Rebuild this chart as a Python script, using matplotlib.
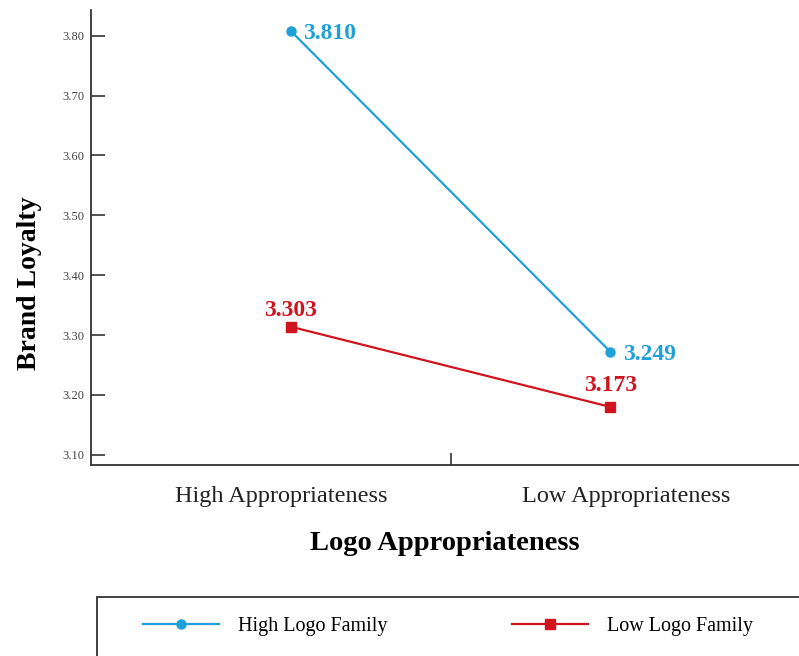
import matplotlib
matplotlib.use("Agg")
import matplotlib.pyplot as plt
from matplotlib.lines import Line2D
from matplotlib.patches import Rectangle

# data
categories = ["High Appropriateness", "Low Appropriateness"]
high_family = [3.808, 3.272]
low_family = [3.314, 3.180]
high_labels = ["3.810", "3.249"]
low_labels = ["3.303", "3.173"]
y_ticks = [3.10, 3.20, 3.30, 3.40, 3.50, 3.60, 3.70, 3.80]

BLUE = "#20a0d8"
RED = "#d0141e"
SPINE = "#333333"

plt.rcParams["font.family"] = ["Liberation Serif", "DejaVu Serif"]

fig = plt.figure(figsize=(7.99, 6.56), dpi=100)
ax = fig.add_axes([91 / 799, (656 - 465) / 656, 708 / 799, 455 / 656])

x = [1, 2]
ax.plot(x, high_family, color=BLUE, lw=1.6, marker="o", ms=6.5)
ax.plot(x, low_family, color=RED, lw=1.6, marker="s", ms=6.5)

# value labels
for xi, yi, t in zip(x, high_family, high_labels):
    ax.annotate(t, (xi, yi), xytext=(9, -2), textcoords="offset points",
                ha="left", va="center", color=BLUE, fontsize=17,
                fontweight="bold")
for xi, yi, t, dy in zip(x, low_family, low_labels, [4, 8]):
    ax.annotate(t, (xi, yi), xytext=(0, dy), textcoords="offset points",
                ha="center", va="bottom", color=RED, fontsize=17,
                fontweight="bold")

ax.set_xlim(0.375, 2.59)
ax.set_ylim(3.083, 3.843)

ax.set_yticks(y_ticks)
ax.set_yticklabels([f"{v:.2f}" for v in y_ticks])
ax.tick_params(axis="y", direction="in", length=10, width=1.2,
               color=SPINE, labelsize=9, labelcolor="#444444", pad=5)

# category labels sit a little off the points in the original
ax.set_xticks([x[0] - 0.03, x[1] + 0.05])
ax.set_xticklabels(categories)
ax.set_xticks([1.5], minor=True)
ax.tick_params(axis="x", which="major", length=0, labelsize=17.5,
               labelcolor="#222222", pad=15)
ax.tick_params(axis="x", which="minor", direction="in", length=9,
               width=1.2, color=SPINE)

for s in ["top", "right"]:
    ax.spines[s].set_visible(False)
for s in ["left", "bottom"]:
    ax.spines[s].set_color(SPINE)
    ax.spines[s].set_linewidth(1.3)

ax.set_ylabel("Brand Loyalty", fontsize=20, fontweight="bold")
ax.yaxis.set_label_coords(-0.069, 0.40)
ax.set_xlabel("Logo Appropriateness", fontsize=20.5, fontweight="bold")
ax.xaxis.set_label_coords(0.5, -0.172)
ax.xaxis.label.set_va("center")

# legend box at the bottom
lax = fig.add_axes([97 / 799, 0, 1 - 97 / 799, 59 / 656])
lax.set_xlim(0, 1)
lax.set_ylim(0, 1)
lax.axis("off")
lax.add_patch(Rectangle((0, -0.1), 1.2, 1.1, fill=False, edgecolor=SPINE,
                        lw=1.3, clip_on=False))
handles = [Line2D([], [], color=BLUE, lw=1.6, marker="o", ms=6.5),
           Line2D([], [], color=RED, lw=1.6, marker="s", ms=6.5)]
lax.legend(handles, ["High Logo Family", "Low Logo Family"], ncol=2,
           loc="center left", bbox_to_anchor=(0.0655, 0.5), frameon=False,
           borderpad=0, borderaxespad=0,
           fontsize=14.5, handlelength=3.75, handletextpad=0.95,
           columnspacing=6.2)

fig.savefig("out.png", dpi=100)
